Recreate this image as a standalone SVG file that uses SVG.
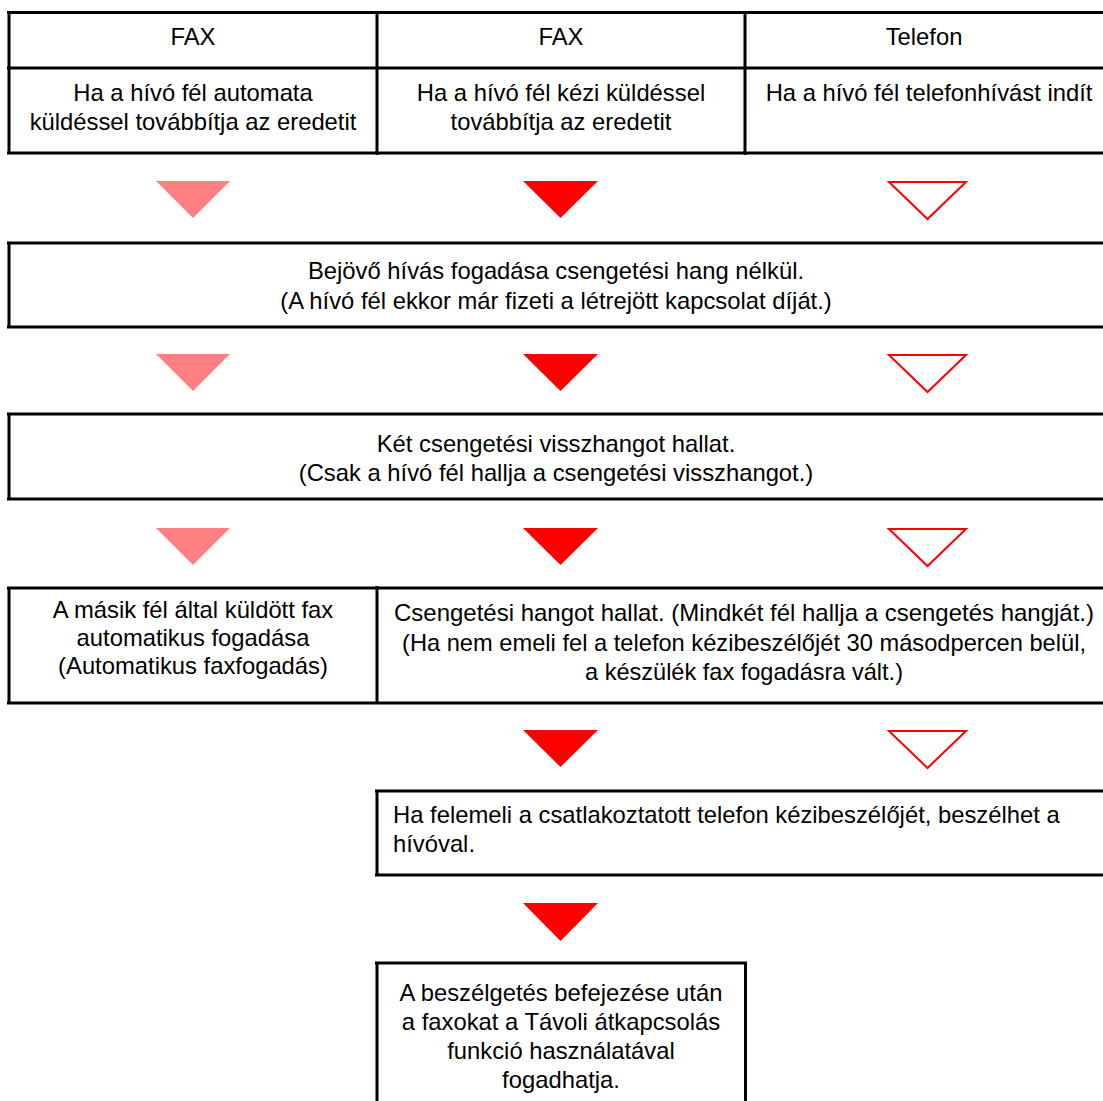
<svg xmlns="http://www.w3.org/2000/svg" width="1103" height="1101" viewBox="0 0 1103 1101">
<style>
.ln{stroke:#000;stroke-width:3;fill:none}
.t{font-family:"Liberation Sans",Arial,sans-serif;font-size:23.8px;fill:#000;text-anchor:middle}
.tl{font-family:"Liberation Sans",Arial,sans-serif;font-size:23.8px;fill:#000}
.pink{fill:#FF8080}
.red{fill:#FF0000}
.out{fill:none;stroke:#FF0000;stroke-width:2}
</style>
<rect width="1103" height="1101" fill="#fff"/>
<g id="header">
<path class="ln" d="M7 12.5H1103M7 68H1103M7 153H1103M9 12.5V153M377 11V155M745 11V155"/>
<text class="t" x="193" y="45">FAX</text>
<text class="t" x="561" y="45">FAX</text>
<text class="t" x="924" y="45">Telefon</text>
<text class="t" x="193" y="101">Ha a hívó fél automata</text>
<text class="t" x="193" y="130">küldéssel továbbítja az eredetit</text>
<text class="t" x="561" y="101">Ha a hívó fél kézi küldéssel</text>
<text class="t" x="561" y="130">továbbítja az eredetit</text>
<text class="t" x="929" y="101">Ha a hívó fél telefonhívást indít</text>
</g>
<g id="connectors">
<polygon class="pink" points="156,181 230,181 193,218"/>
<polygon class="red" points="523,181 598,181 560.5,218"/>
<polygon class="out" points="889,182 966,182 927.5,219"/>
<polygon class="pink" points="156,354 230,354 193,391"/>
<polygon class="red" points="523,354 598,354 560.5,391"/>
<polygon class="out" points="889,355 966,355 927.5,392"/>
<polygon class="pink" points="156,528 230,528 193,565"/>
<polygon class="red" points="523,528 598,528 560.5,565"/>
<polygon class="out" points="889,529 966,529 927.5,566"/>
<polygon class="red" points="523,730 598,730 560.5,767"/>
<polygon class="out" points="889,731 966,731 927.5,768"/>
<polygon class="red" points="523,903 598,903 560.5,941"/>
</g>
<g id="box2">
<path class="ln" d="M7 243H1103M7 327H1103M9 243V327"/>
<text class="t" x="556" y="279">Bejövő hívás fogadása csengetési hang nélkül.</text>
<text class="t" x="556" y="309">(A hívó fél ekkor már fizeti a létrejött kapcsolat díját.)</text>
</g>
<g id="box3">
<path class="ln" d="M7 414H1103M7 499H1103M9 414V499"/>
<text class="t" x="556" y="452">Két csengetési visszhangot hallat.</text>
<text class="t" x="556" y="481">(Csak a hívó fél hallja a csengetési visszhangot.)</text>
</g>
<g id="box4">
<path class="ln" d="M7 588H1103M7 703H1103M9 588V703M377 586V703"/>
<text class="t" x="193" y="618">A másik fél által küldött fax</text>
<text class="t" x="193" y="646">automatikus fogadása</text>
<text class="t" x="193" y="674">(Automatikus faxfogadás)</text>
<text class="t" x="744" y="621" textLength="700" lengthAdjust="spacingAndGlyphs">Csengetési hangot hallat. (Mindkét fél hallja a csengetés hangját.)</text>
<text class="t" x="744" y="651" textLength="684" lengthAdjust="spacingAndGlyphs">(Ha nem emeli fel a telefon kézibeszélőjét 30 másodpercen belül,</text>
<text class="t" x="744" y="680" textLength="318" lengthAdjust="spacingAndGlyphs">a készülék fax fogadásra vált.)</text>
</g>
<g id="box5">
<path class="ln" d="M375 791H1103M375 875H1103M377 791V875"/>
<text class="tl" x="393" y="823">Ha felemeli a csatlakoztatott telefon kézibeszélőjét, beszélhet a</text>
<text class="tl" x="393" y="852">hívóval.</text>
</g>
<g id="box6">
<path class="ln" d="M375 963H747M377 963V1101M745.5 963V1101"/>
<text class="t" x="561" y="1001">A beszélgetés befejezése után</text>
<text class="t" x="561" y="1030">a faxokat a Távoli átkapcsolás</text>
<text class="t" x="561" y="1059">funkció használatával</text>
<text class="t" x="561" y="1088">fogadhatja.</text>
</g>
</svg>
